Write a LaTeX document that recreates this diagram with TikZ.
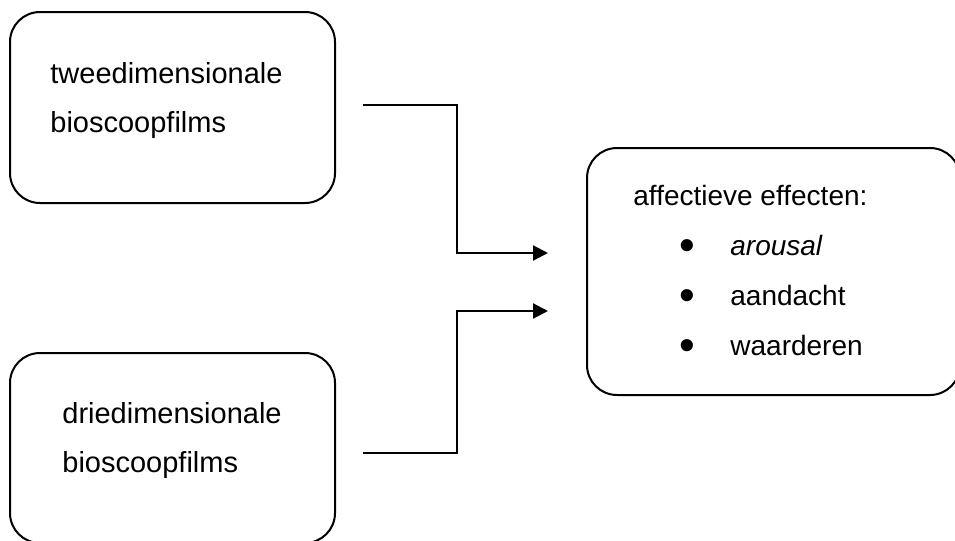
\documentclass[tikz,border=0pt]{standalone}
\usepackage{graphicx}
\usepackage{fontspec}
\setmainfont{Liberation Sans}
\usetikzlibrary{arrows.meta,positioning,calc}
\newcommand{\bulletitem}[1]{\makebox[48.5pt][l]{\hspace*{27pt}\makebox[0pt]{\raisebox{-2.3pt}{\scalebox{1.6}{\textbullet}}}}#1}

\begin{document}
\begin{tikzpicture}[x=0.5pt,y=-0.5pt,
  box/.style={draw,line width=1pt,rounded corners=15pt,inner sep=0pt,outer sep=0pt},
  txt/.style={inner sep=0pt,anchor=west,align=left,font=\fontsize{14.5}{24.5}\selectfont},
  conn/.style={line width=1.1pt,-{Triangle[length=7.5pt,width=7.5pt]}}]
  \useasboundingbox (0,0) rectangle (955,541);
  \clip (0,0) rectangle (955,541);
  % boxes
  \node[box,minimum width=162.5pt,minimum height=95.5pt] (twoD) at (172.5,107.5) {};
  \node[box,minimum width=162.5pt,minimum height=95pt] (threeD) at (172.5,448) {};
  \node[box,minimum width=186.5pt,minimum height=123.5pt] (effect) at (773.5,271.5) {};
  % texts
  \node[txt] (twoDtxt) at (50,100) {tweedimensionale\\bioscoopfilms};
  \node[txt] (threeDtxt) at (62,440) {driedimensionale\\bioscoopfilms};
  \node[txt,font=\fontsize{14}{25}\selectfont] (effecttxt) at (633,273)
    {affectieve effecten:\\\bulletitem{\textit{arousal}}\\\bulletitem{aandacht}\\\bulletitem{waarderen}};
  % connectors
  \coordinate (twoDout) at ($(twoD.east)+(28,-2.5)$);
  \coordinate (threeDout) at ($(threeD.east)+(28,5)$);
  \coordinate (effectinA) at ($(effect.west)+(-39,-18.5)$);
  \coordinate (effectinB) at ($(effect.west)+(-39,39.5)$);
  \draw[conn] (twoDout) -- ++(94,0) |- (effectinA);
  \draw[conn] (threeDout) -- ++(94,0) |- (effectinB);
\end{tikzpicture}
\end{document}
